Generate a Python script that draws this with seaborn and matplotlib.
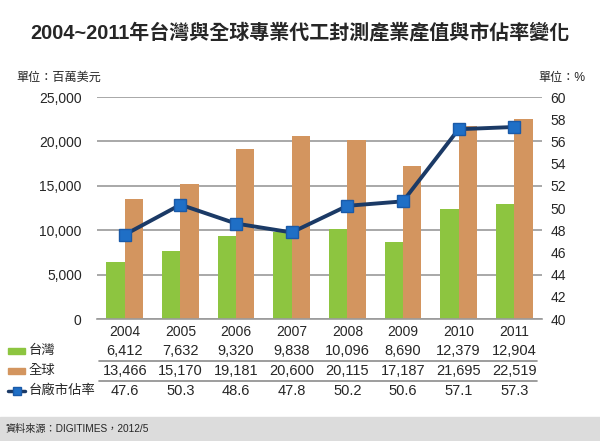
"""
2004~2011 Taiwan vs global OSAT output and Taiwan market share
"""

import numpy as np
import pandas as pd
import matplotlib
matplotlib.use("Agg")
import matplotlib.pyplot as plt
from matplotlib.lines import Line2D
from matplotlib.patches import Rectangle
import matplotlib.transforms as mtransforms
import seaborn as sns

# data
years = ["2004", "2005", "2006", "2007", "2008", "2009", "2010", "2011"]
taiwan = [6412, 7632, 9320, 9838, 10096, 8690, 12379, 12904]
world = [13466, 15170, 19181, 20600, 20115, 17187, 21695, 22519]
share = [47.6, 50.3, 48.6, 47.8, 50.2, 50.6, 57.1, 57.3]
series_names = ["台灣", "全球", "台廠市佔率"]
left_ticks = [0, 5000, 10000, 15000, 20000, 25000]
right_ticks = [40, 42, 44, 46, 48, 50, 52, 54, 56, 58, 60]

GREEN = "#8dc540"
TAN = "#d3955f"
NAVY = "#1b3a66"
BLUE = "#1f6fc6"

sns.set_style("white")
plt.rcParams["font.family"] = ["Liberation Sans", "Noto Sans CJK TC", "DejaVu Sans"]

df = pd.DataFrame({
    "year": years * 2,
    "value": taiwan + world,
    "series": [series_names[0]] * len(years) + [series_names[1]] * len(years),
})

fig = plt.figure(figsize=(6, 4.41), dpi=100)
ax = fig.add_axes([0.1617, 0.2766, 0.7417, 0.5034])

sns.barplot(data=df, x="year", y="value", hue="series", palette=[GREEN, TAN],
            width=0.66, saturation=1, linewidth=0, legend=False, ax=ax)
ax.set_ylim(0, 25000)
ax.set_yticks(left_ticks)
ax.set_yticklabels([f"{v:,}" for v in left_ticks], fontsize=10)
ax.set_xlabel("")
ax.set_ylabel("")
ax.yaxis.grid(True, color="#9a9a9a", linewidth=1.2)
ax.set_axisbelow(True)
for s in ["left", "right", "top"]:
    ax.spines[s].set_visible(False)
ax.spines["bottom"].set_color("#9a9a9a")
ax.spines["bottom"].set_linewidth(1.2)
ax.tick_params(axis="y", length=0, pad=11)
ax.tick_params(axis="x", length=0, pad=4, labelsize=10)

ax2 = ax.twinx()
sns.lineplot(x=np.arange(len(years)), y=share, ax=ax2, color=NAVY, linewidth=2.8,
             marker="s", markersize=9, markerfacecolor=BLUE,
             markeredgecolor="#1a5aa8", markeredgewidth=1)
ax2.set_ylim(40, 60)
ax2.set_yticks(right_ticks)
ax2.set_yticklabels([str(v) for v in right_ticks], fontsize=10)
ax2.tick_params(axis="y", length=0, pad=6)
for s in ax2.spines.values():
    s.set_visible(False)
ax.set_xlim(-0.5, len(years) - 0.5)

# title and units
fig.text(0.5, 0.925, "2004~2011年台灣與全球專業代工封測產業產值與市佔率變化",
         ha="center", va="center", fontsize=14.4, fontweight="bold")
fig.text(0.028, 0.823, "單位：百萬美元", ha="left", va="center", fontsize=8.7)
fig.text(0.975, 0.823, "單位：%", ha="right", va="center", fontsize=8.7)

# data table under the chart
trans = mtransforms.blended_transform_factory(ax.transData, fig.transFigure)
row_y = [0.204, 0.1587, 0.1134]
rows = [[f"{v:,}" for v in taiwan], [f"{v:,}" for v in world], [f"{v:.1f}" for v in share]]
for ry, vals in zip(row_y, rows):
    for i, txt in enumerate(vals):
        ax.text(i, ry, txt, transform=trans, ha="center", va="center", fontsize=10.5)

for ry, name in zip(row_y, series_names):
    fig.text(0.047, ry, name, ha="left", va="center", fontsize=9.6)
fig.patches.append(Rectangle((0.013, row_y[0] - 0.007), 0.029, 0.014,
                             transform=fig.transFigure, color=GREEN))
fig.patches.append(Rectangle((0.013, row_y[1] - 0.007), 0.029, 0.014,
                             transform=fig.transFigure, color=TAN))
fig.lines.append(Line2D([0.013, 0.042], [row_y[2], row_y[2]], transform=fig.transFigure,
                        color=NAVY, linewidth=2.5))
fig.lines.append(Line2D([0.0275], [row_y[2]], transform=fig.transFigure, marker="s",
                        markersize=6, markerfacecolor=BLUE, markeredgecolor="#1a5aa8"))
for ly in [0.1814, 0.136]:
    fig.lines.append(Line2D([0.165, 0.895], [ly, ly], transform=fig.transFigure,
                            color="#8c8c8c", linewidth=1.2))

# footer band
fig.patches.append(Rectangle((0, 0), 1, 0.0544, transform=fig.transFigure,
                             color="#dcdcdc", zorder=0))
fig.text(0.009, 0.0272, "資料來源：DIGITIMES，2012/5", ha="left", va="center", fontsize=7.3)

fig.savefig("out.png", dpi=100)
